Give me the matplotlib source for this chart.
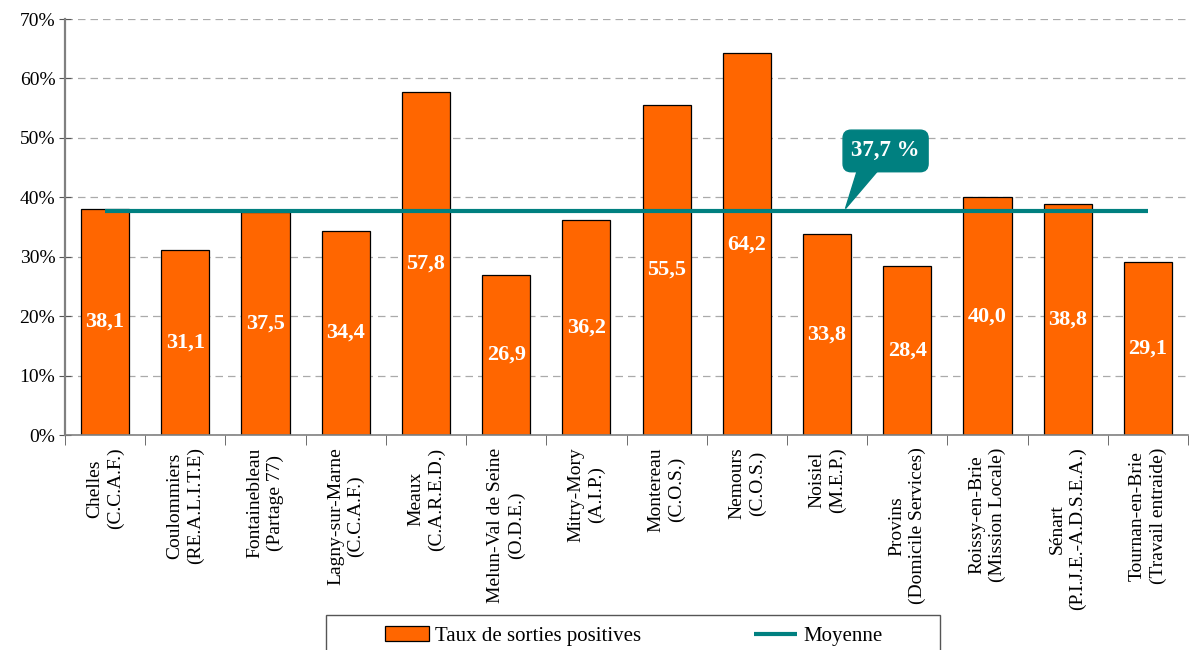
import matplotlib
matplotlib.use("Agg")
import matplotlib.pyplot as plt
import numpy as np
from matplotlib.patches import FancyBboxPatch, Polygon, Rectangle

plt.rcParams['font.family'] = ['Liberation Serif', 'DejaVu Serif']

categories = [
    "Chelles\n(C.C.A.F.)",
    "Coulommiers\n(RE.A.L.I.T.E)",
    "Fontainebleau\n(Partage 77)",
    "Lagny-sur-Marne\n(C.C.A.F.)",
    "Meaux\n(C.A.R.E.D.)",
    "Melun-Val de Seine\n(O.D.E.)",
    "Mitry-Mory\n(A.I.P.)",
    "Montereau\n(C.O.S.)",
    "Nemours\n(C.O.S.)",
    "Noisiel\n(M.E.P.)",
    "Provins\n(Domicile Services)",
    "Roissy-en-Brie\n(Mission Locale)",
    "Sénart\n(P.I.J.E.-A.D.S.E.A.)",
    "Tournan-en-Brie\n(Travail entraide)",
]
taux = [38.1, 31.1, 37.5, 34.4, 57.8, 26.9, 36.2, 55.5, 64.2, 33.8, 28.4, 40.0, 38.8, 29.1]
moyenne = 37.7

orange = "#FF6600"
teal = "#008080"

fig = plt.figure(figsize=(11.9, 6.5), dpi=100)
ax = fig.add_axes([65 / 1190, 1 - 435 / 650, 1123 / 1190, 416 / 650])

x = np.arange(len(categories))
bars = ax.bar(x, taux, width=0.6, color=orange, edgecolor="black", linewidth=0.9,
              zorder=2, label="Taux de sorties positives")

for xi, v in zip(x, taux):
    ax.text(xi, v / 2, f"{v:.1f}".replace(".", ","), ha="center", va="center",
            color="white", fontsize=16, fontweight="bold", zorder=4)

# moyenne: from first to last category centre
line = ax.hlines(moyenne, x[0], x[-1], color=teal, linewidth=3,
                 zorder=3, label="Moyenne")

# callout bubble
bx, by = 9.73, 47.8
bw, bh = 1.06, 7.0
ax.add_patch(FancyBboxPatch((bx - bw / 2, by - bh / 2), bw, bh,
                            boxstyle="round,pad=0,rounding_size=0.1",
                            mutation_aspect=13.5, facecolor=teal, edgecolor=teal,
                            zorder=5))
ax.add_patch(Polygon([[9.38, by - bh / 2 + 0.3], [9.64, by - bh / 2 + 0.3],
                      [9.23, moyenne + 0.4]], closed=True, facecolor=teal,
                     edgecolor=teal, zorder=5))
ax.text(bx, by, f"{moyenne:.1f}".replace(".", ",") + " %", ha="center", va="center",
        color="white", fontsize=16.5, fontweight="bold", zorder=6)

ax.set_xlim(-0.5, len(categories) - 0.5)
ax.set_ylim(0, 70)
ax.set_yticks(np.arange(0, 71, 10))
ax.set_yticklabels([f"{t}%" for t in range(0, 71, 10)], fontsize=14)
ax.yaxis.grid(True, linestyle=(0, (6, 4)), color="#AAAAAA", linewidth=0.9, zorder=0)
ax.set_axisbelow(True)

ax.set_xticks(x)
ax.set_xticklabels(categories, rotation=90, fontsize=14, linespacing=1.25)
ax.tick_params(axis="x", which="major", length=0, pad=9)
ax.set_xticks(np.arange(-0.5, len(categories), 1), minor=True)
ax.tick_params(axis="x", which="minor", length=7, direction="out", color="#555555")
ax.tick_params(axis="y", length=8, direction="inout", color="#555555", pad=3)

for s in ["top", "right"]:
    ax.spines[s].set_visible(False)
ax.spines["left"].set_color("#808080")
ax.spines["left"].set_linewidth(1.6)
ax.spines["bottom"].set_color("#808080")
ax.spines["bottom"].set_linewidth(1.2)

# legend frame (cut by the bottom of the picture)
fig.patches.append(Rectangle((326 / 1190, -0.05), 614 / 1190, 0.05 + 35 / 650,
                             transform=fig.transFigure, facecolor="white",
                             edgecolor="#555555", linewidth=1.0))
leg = fig.legend(handles=[bars, line], labels=["Taux de sorties positives", "Moyenne"],
                 loc="center left", bbox_to_anchor=(385 / 1190, 1 - 636 / 650),
                 ncol=2, fontsize=15, frameon=False, columnspacing=5.4,
                 handlelength=2.1, handletextpad=0.3, borderpad=0, borderaxespad=0)

fig.savefig("out.png", dpi=100)
